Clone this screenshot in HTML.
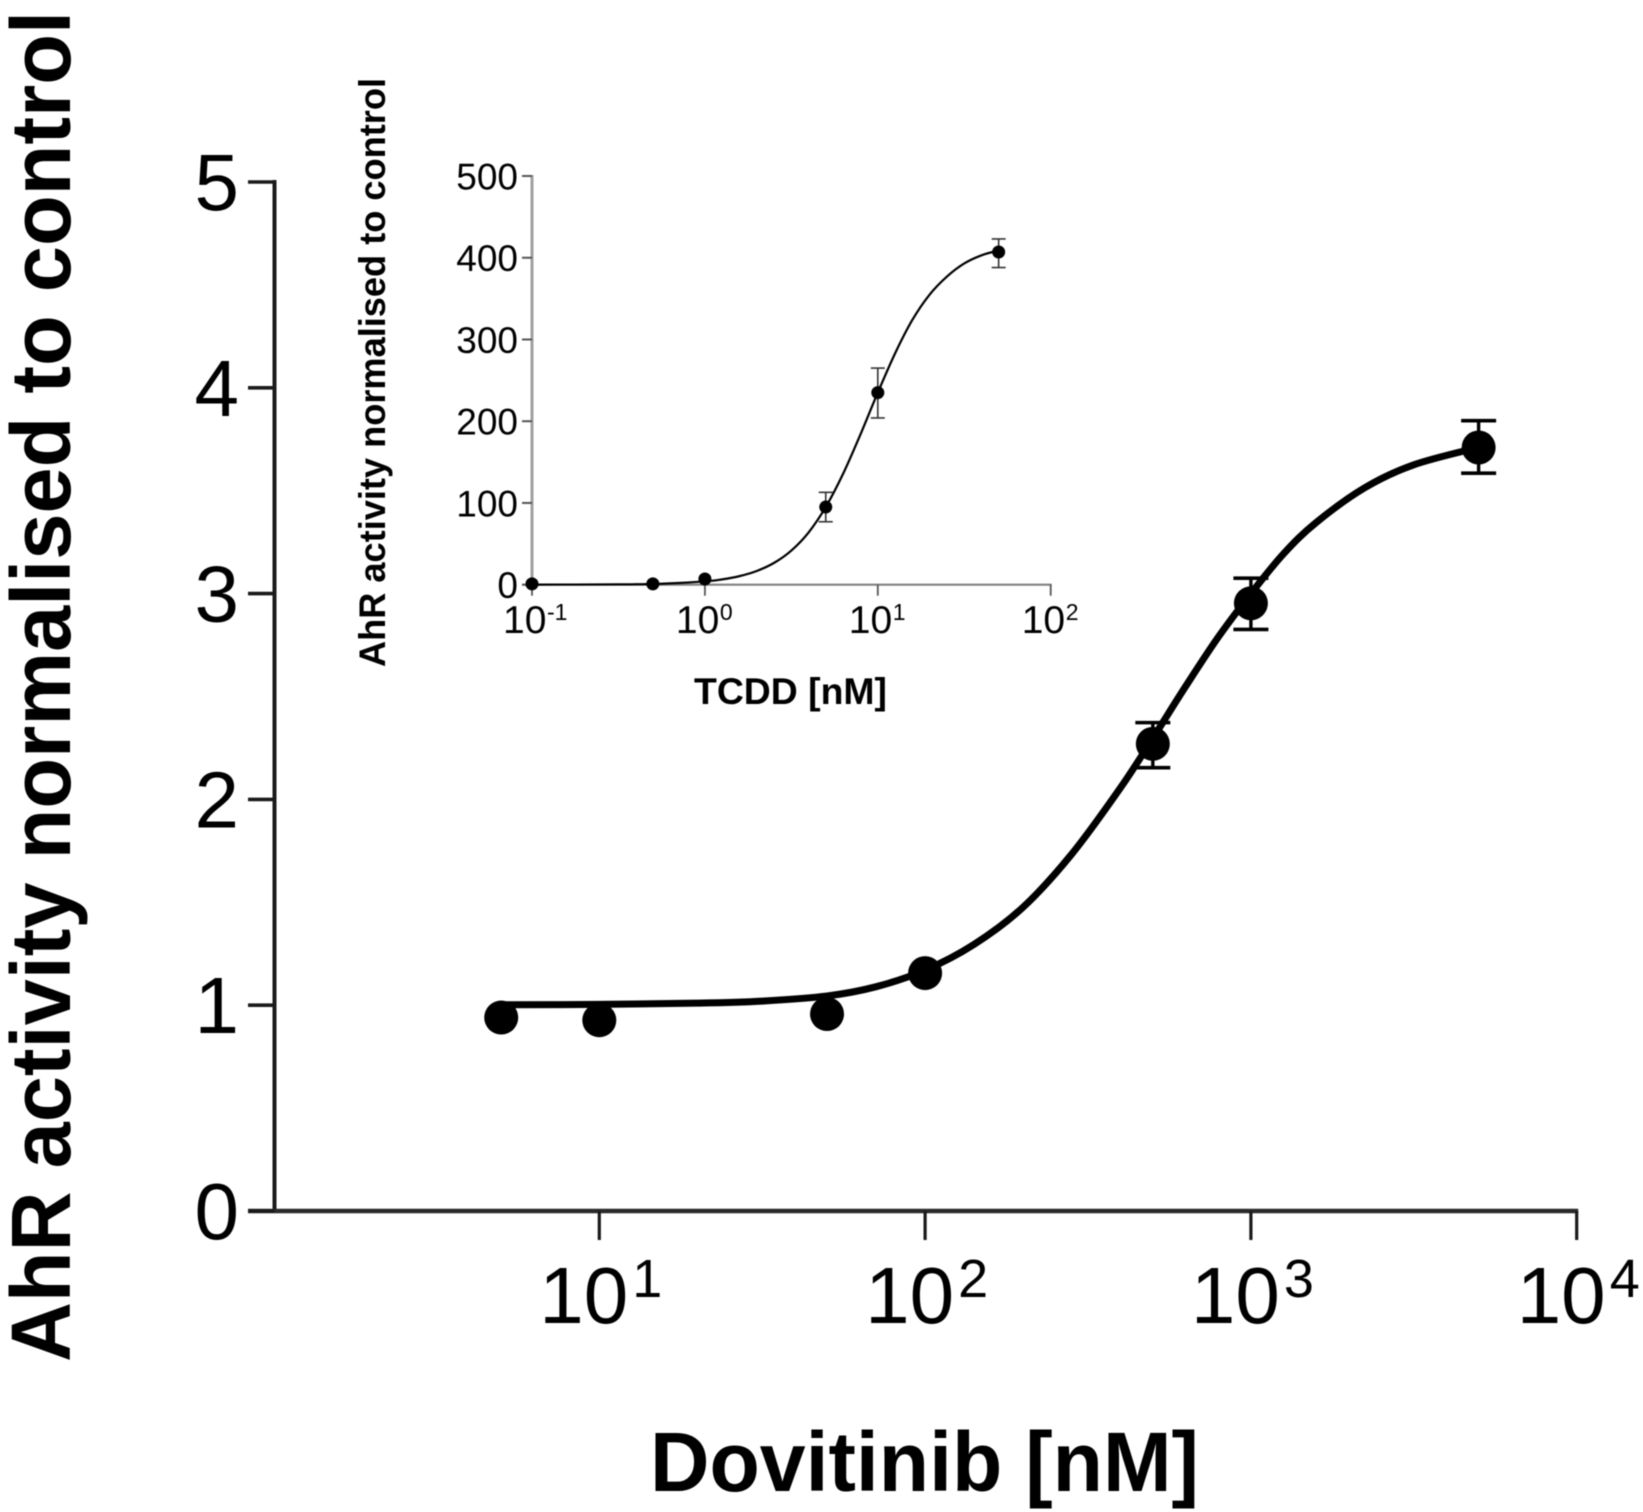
<!DOCTYPE html>
<html lang="en">
<head>
<meta charset="utf-8">
<title>AhR activity dose-response: Dovitinib with TCDD inset</title>
<style>
html,body{margin:0;padding:0;background:#fff;}
body{width:1643px;height:1512px;overflow:hidden;}
svg{display:block;filter:blur(0.5px);}
text{font-family:"Liberation Sans",Arial,sans-serif;fill:#000;}
</style>
</head>
<body>
<svg id="figure" xmlns="http://www.w3.org/2000/svg" width="1643" height="1512" viewBox="0 0 1643 1512">
  <rect width="1643" height="1512" fill="#fff"/>
  <g id="main-chart">
    <text transform="translate(70,1362) rotate(-90)" font-size="84" font-weight="700" textLength="1351" lengthAdjust="spacingAndGlyphs">AhR activity normalised to control</text>
    <text x="650" y="1491" font-size="84" font-weight="700" textLength="549" lengthAdjust="spacingAndGlyphs">Dovitinib [nM]</text>
  </g>
  <g id="inset-chart">
    <text transform="translate(385,667) rotate(-90)" font-size="37" font-weight="700" textLength="589" lengthAdjust="spacingAndGlyphs">AhR activity normalised to control</text>
    <text x="694" y="704" font-size="37" font-weight="700" textLength="193" lengthAdjust="spacingAndGlyphs">TCDD [nM]</text>
  </g>
</svg>
<script>
// Main chart data
const mainYTicks = [0, 1, 2, 3, 4, 5];
const mainXTickExponents = [1, 2, 3, 4];
const mainDoses = [5, 10, 50, 100, 500, 1000, 5000];
const mainValues = [0.94, 0.927, 0.957, 1.156, 2.27, 2.953, 3.71];
const mainErrorHigh = [null, null, null, null, 2.373, 3.075, 3.84];
const mainErrorLow = [null, null, null, null, 2.154, 2.826, 3.585];
const mainCurveLogDose = [0.7, 1, 1.3, 1.5, 1.7, 1.85, 2, 2.15, 2.3, 2.45, 2.6, 2.7, 2.8, 2.9, 3, 3.1, 3.2, 3.35, 3.5, 3.7];
const mainCurveValues = [1.002, 1.004, 1.01, 1.02, 1.045, 1.09, 1.17, 1.295, 1.475, 1.734, 2.057, 2.30, 2.55, 2.789, 3.0, 3.193, 3.345, 3.515, 3.626, 3.711];

// Inset chart data
const insetYTicks = [0, 100, 200, 300, 400, 500];
const insetXTickExponents = [-1, 0, 1, 2];
const insetDoses = [0.1, 0.5, 1, 5, 10, 50];
const insetValues = [1, 1, 7, 95, 235, 407];
const insetErrorHigh = [null, null, null, 113, 265, 423];
const insetErrorLow = [null, null, null, 77, 204, 388];
const insetCurveLogDose = [-1, -0.75, -0.5, -0.25, 0, 0.1, 0.2, 0.3, 0.4, 0.5, 0.6, 0.7, 0.8, 0.9, 1, 1.1, 1.2, 1.3, 1.4, 1.5, 1.6, 1.7];
const insetCurveValues = [0.1, 0.2, 0.35, 1.2, 4, 6.5, 10.5, 16.8, 26.7, 41.8, 64, 95.4, 136, 184, 235, 283, 324, 355, 377, 393, 403, 409];

const SVG_NS = 'http://www.w3.org/2000/svg';
const mainGroup = document.getElementById('main-chart');
const insetGroup = document.getElementById('inset-chart');

function mainX(dose) { return 599.3 + (Math.log10(dose) - 1) * 325.8; }
function mainY(value) { return 1211 - value * 205.8; }
function insetX(dose) { return 532 + (Math.log10(dose) + 1) * 172.9; }
function insetY(value) { return 584.7 - value * 0.8174; }

function addLine(parent, x1, y1, x2, y2, width, color, name) {
  const el = document.createElementNS(SVG_NS, 'line');
  el.setAttribute('x1', x1);
  el.setAttribute('y1', y1);
  el.setAttribute('x2', x2);
  el.setAttribute('y2', y2);
  el.setAttribute('stroke', color);
  el.setAttribute('stroke-width', width);
  
  
  parent.appendChild(el);
}

function addText(parent, x, y, str, size, anchor, name) {
  const el = document.createElementNS(SVG_NS, 'text');
  el.setAttribute('x', x);
  el.setAttribute('y', y);
  el.setAttribute('font-size', size);
  el.setAttribute('text-anchor', anchor);
  el.textContent = str;
  
  
  parent.appendChild(el);
}

function addCurve(parent, logDoses, values, xf, yf, width, name) {
  const pts = logDoses.map((l, i) => [xf(Math.pow(10, l)), yf(values[i])]);
  let d = 'M' + pts[0][0].toFixed(2) + ' ' + pts[0][1].toFixed(2);
  for (let i = 0; i < pts.length - 1; i++) {
    const p0 = pts[Math.max(i - 1, 0)];
    const p1 = pts[i];
    const p2 = pts[i + 1];
    const p3 = pts[Math.min(i + 2, pts.length - 1)];
    const c1x = p1[0] + (p2[0] - p0[0]) / 6;
    const c1y = p1[1] + (p2[1] - p0[1]) / 6;
    const c2x = p2[0] - (p3[0] - p1[0]) / 6;
    const c2y = p2[1] - (p3[1] - p1[1]) / 6;
    d += 'C' + c1x.toFixed(2) + ' ' + c1y.toFixed(2) + ' ' + c2x.toFixed(2) + ' ' + c2y.toFixed(2) + ' ' + p2[0].toFixed(2) + ' ' + p2[1].toFixed(2);
  }
  const el = document.createElementNS(SVG_NS, 'path');
  el.setAttribute('d', d);
  el.setAttribute('fill', 'none');
  el.setAttribute('stroke', '#000');
  el.setAttribute('stroke-width', width);
  
  
  parent.appendChild(el);
}

function addPoint(parent, cx, cy, r, name) {
  const el = document.createElementNS(SVG_NS, 'circle');
  el.setAttribute('cx', cx);
  el.setAttribute('cy', cy);
  el.setAttribute('r', r);
  el.setAttribute('fill', '#000');
  
  
  parent.appendChild(el);
}

// ---- Main chart ----
const mainX0 = 274.5;
addLine(mainGroup, mainX0, mainY(5) - 2, mainX0, mainY(0) + 2, 4, '#1a1a1a', 'main-y-axis');
addLine(mainGroup, 248, mainY(0), mainX(10000) + 1.5, mainY(0), 4.6, '#2a2a2a', 'main-x-axis');
mainYTicks.forEach((t) => {
  addLine(mainGroup, 248, mainY(t), mainX0, mainY(t), 3.6, '#1a1a1a', 'main-y-tick-' + t);
  addText(mainGroup, 239, mainY(t) + 28, String(t), 80, 'end', 'main-y-tick-label-' + t);
});
mainXTickExponents.forEach((e) => {
  const x = mainX(Math.pow(10, e));
  addLine(mainGroup, x, mainY(0), x, mainY(0) + 29, 3.2, '#1a1a1a', 'main-x-tick-' + e);
  addText(mainGroup, x - 60, 1323, '10', 80, 'start', 'main-x-tick-label-base-' + e);
  addText(mainGroup, x + 33, 1297, String(e), 54, 'start', 'main-x-tick-label-exponent-' + e);
});
addCurve(mainGroup, mainCurveLogDose, mainCurveValues, mainX, mainY, 7, 'main-fit-curve');
mainDoses.forEach((dose, i) => {
  const x = mainX(dose);
  if (mainErrorHigh[i] !== null) {
    addLine(mainGroup, x, mainY(mainErrorHigh[i]), x, mainY(mainErrorLow[i]), 3.4, '#000', 'main-error-bar-' + dose);
    addLine(mainGroup, x - 17.5, mainY(mainErrorHigh[i]), x + 17.5, mainY(mainErrorHigh[i]), 3.6, '#000', 'main-error-cap-high-' + dose);
    addLine(mainGroup, x - 17.5, mainY(mainErrorLow[i]), x + 17.5, mainY(mainErrorLow[i]), 3.6, '#000', 'main-error-cap-low-' + dose);
  }
  addPoint(mainGroup, x, mainY(mainValues[i]), 17, 'main-point-' + dose);
});

// ---- Inset chart ----
const insetX0 = 532;
addLine(insetGroup, insetX0, insetY(500) - 1, insetX0, insetY(0) + 1, 3, '#a0a0a0', 'inset-y-axis');
addLine(insetGroup, 522, insetY(0), insetX(100) + 1, insetY(0), 2.2, '#808080', 'inset-x-axis');
insetYTicks.forEach((t) => {
  addLine(insetGroup, 522, insetY(t), insetX0, insetY(t), 2, '#555', 'inset-y-tick-' + t);
  addText(insetGroup, 518, insetY(t) + 13.5, String(t), 37, 'end', 'inset-y-tick-label-' + t);
});
insetXTickExponents.forEach((e) => {
  const x = insetX(Math.pow(10, e));
  addLine(insetGroup, x, insetY(0), x, insetY(0) + 11, 1.8, '#555', 'inset-x-tick-' + e);
  addText(insetGroup, x - 29, 633, '10', 39, 'start', 'inset-x-tick-label-base-' + e);
  addText(insetGroup, x + 15, 620, String(e), 23, 'start', 'inset-x-tick-label-exponent-' + e);
});
addCurve(insetGroup, insetCurveLogDose, insetCurveValues, insetX, insetY, 2.2, 'inset-fit-curve');
insetDoses.forEach((dose, i) => {
  const x = insetX(dose);
  if (insetErrorHigh[i] !== null) {
    addLine(insetGroup, x, insetY(insetErrorHigh[i]), x, insetY(insetErrorLow[i]), 1.6, '#333', 'inset-error-bar-' + dose);
    addLine(insetGroup, x - 7, insetY(insetErrorHigh[i]), x + 7, insetY(insetErrorHigh[i]), 1.6, '#333', 'inset-error-cap-high-' + dose);
    addLine(insetGroup, x - 7, insetY(insetErrorLow[i]), x + 7, insetY(insetErrorLow[i]), 1.6, '#333', 'inset-error-cap-low-' + dose);
  }
  addPoint(insetGroup, x, insetY(insetValues[i]), 6.5, 'inset-point-' + dose);
});
</script>
</body>
</html>
